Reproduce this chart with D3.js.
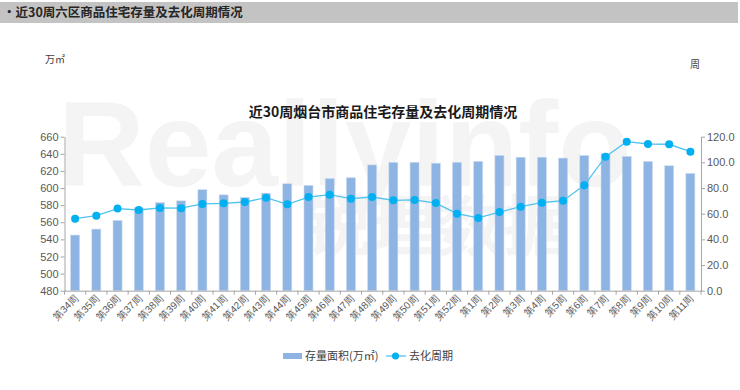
<!DOCTYPE html>
<html><head><meta charset="utf-8">
<script src="https://cdn.jsdelivr.net/npm/d3@7"></script>
<style>body{margin:0;background:#fff}svg{display:block;font-family:"Noto Sans CJK SC","Noto Sans",sans-serif}</style>
</head><body><svg id="c" width="740" height="390"></svg>
<script>
const categories = ["第34周","第35周","第36周","第37周","第38周","第39周","第40周","第41周","第42周","第43周","第44周","第45周","第46周","第47周","第48周","第49周","第50周","第51周","第52周","第1周","第2周","第3周","第4周","第5周","第6周","第7周","第8周","第9周","第10周","第11周"];
const stockArea = [545,552,562,577,583,585,598,592,589,594,605,603,611,612,627,630,630,629,630,631,638,636,636,635,638,640,637,631,626,617];
const cycle = [56.1,58.5,64,62.9,64.5,64.3,67.6,68.1,69.1,72.5,67.3,73,74.8,71.7,73,70.4,70.7,68.3,60,56.7,61.3,65.5,68.6,70.1,82.1,104.4,116.1,114.3,114.1,108.3];
const leftTicks = [480,500,520,540,560,580,600,620,640,660];
const rightTicks = [0,20,40,60,80,100,120];

const svg = d3.select("#c");
const L = 64.5, R = 701, T = 136.7, B = 290.7;

// header
svg.append("rect").attr("x",0).attr("y",2).attr("width",738).attr("height",21).attr("fill","#c3c3c3");
svg.append("text").attr("x",3).attr("y",17).attr("font-size",12.5).attr("font-weight","bold").attr("fill","#262626").text("•近30周六区商品住宅存量及去化周期情况");

// watermark (faint)
const wm = svg.append("g").attr("fill","#f4f4f4").attr("pointer-events","none");
wm.append("text").attr("x",58).attr("y",186).attr("font-size",120).attr("font-family","Arial, Liberation Sans, sans-serif").attr("font-weight","bold").text("Reallyinfo");
wm.append("text").attr("x",305).attr("y",250).attr("font-size",66).attr("font-weight","bold").text("锐理数据");

const x = d3.scaleBand().domain(categories).range([L,R]).paddingInner(0).paddingOuter(0);
const yL = d3.scaleLinear().domain([480,660]).range([B,T]);
const yR = d3.scaleLinear().domain([0,120]).range([B,T]);

// title & units
svg.append("text").attr("x",383).attr("y",117).attr("text-anchor","middle").attr("font-size",14).attr("font-weight","bold").attr("fill","#1a1a1a").text("近30周烟台市商品住宅存量及去化周期情况");
svg.append("text").attr("x",45).attr("y",63).attr("font-size",10).attr("fill","#404040").text("万㎡");
svg.append("text").attr("x",690).attr("y",68).attr("font-size",10).attr("fill","#404040").text("周");

// bars
const bw = 9;
svg.append("g").selectAll("rect").data(stockArea).join("rect")
  .attr("x",(d,i)=>x(categories[i])+x.bandwidth()/2-bw/2)
  .attr("y",d=>yL(d)).attr("width",bw).attr("height",d=>B-yL(d))
  .attr("fill","#8db4e2").attr("stroke","#c8d9ef").attr("stroke-width",0.6);

// axes
const axL = svg.append("g").attr("transform",`translate(${L},0)`).call(d3.axisLeft(yL).tickValues(leftTicks).tickSize(4).tickSizeOuter(0));
const axR = svg.append("g").attr("transform",`translate(${R},0)`).call(d3.axisRight(yR).tickValues(rightTicks).tickFormat(d3.format(".1f")).tickSize(4).tickSizeOuter(0));
const axX = svg.append("g").attr("transform",`translate(0,${B})`).call(d3.axisBottom(x).tickSize(0).tickSizeOuter(0));
[axL,axR,axX].forEach(a=>{a.selectAll("path,line").attr("stroke","#a6a6a6");a.selectAll("text").attr("fill","#595959").attr("font-size",11);});
axL.selectAll("text").attr("x",-6);
axR.selectAll("text").attr("x",6);
svg.append("g").selectAll("line").data(d3.range(categories.length+1)).join("line")
  .attr("x1",i=>L+i*x.step()).attr("x2",i=>L+i*x.step()).attr("y1",B).attr("y2",B+4).attr("stroke","#a6a6a6");
axX.selectAll("text").attr("font-size",10).attr("text-anchor","end").attr("dy",0).attr("y",0)
  .attr("transform","translate(4,8) rotate(-45)");

// line
const line = d3.line().x((d,i)=>x(categories[i])+x.bandwidth()/2).y(d=>yR(d));
svg.append("path").datum(cycle).attr("d",line).attr("fill","none").attr("stroke","#4fc3f0").attr("stroke-width",1.3);
svg.append("g").selectAll("circle").data(cycle).join("circle")
  .attr("cx",(d,i)=>x(categories[i])+x.bandwidth()/2).attr("cy",d=>yR(d)).attr("r",4).attr("fill","#00b0f0");

// legend
svg.append("rect").attr("x",283).attr("y",353).attr("width",19).attr("height",6).attr("fill","#8db4e2");
svg.append("text").attr("x",305).attr("y",360).attr("font-size",11).attr("fill","#404040").text("存量面积(万㎡)");
svg.append("line").attr("x1",386).attr("x2",406).attr("y1",356).attr("y2",356).attr("stroke","#4fc3f0").attr("stroke-width",1.3);
svg.append("circle").attr("cx",395.5).attr("cy",356).attr("r",3.5).attr("fill","#00b0f0");
svg.append("text").attr("x",409).attr("y",360).attr("font-size",11).attr("fill","#404040").text("去化周期");
</script></body></html>
